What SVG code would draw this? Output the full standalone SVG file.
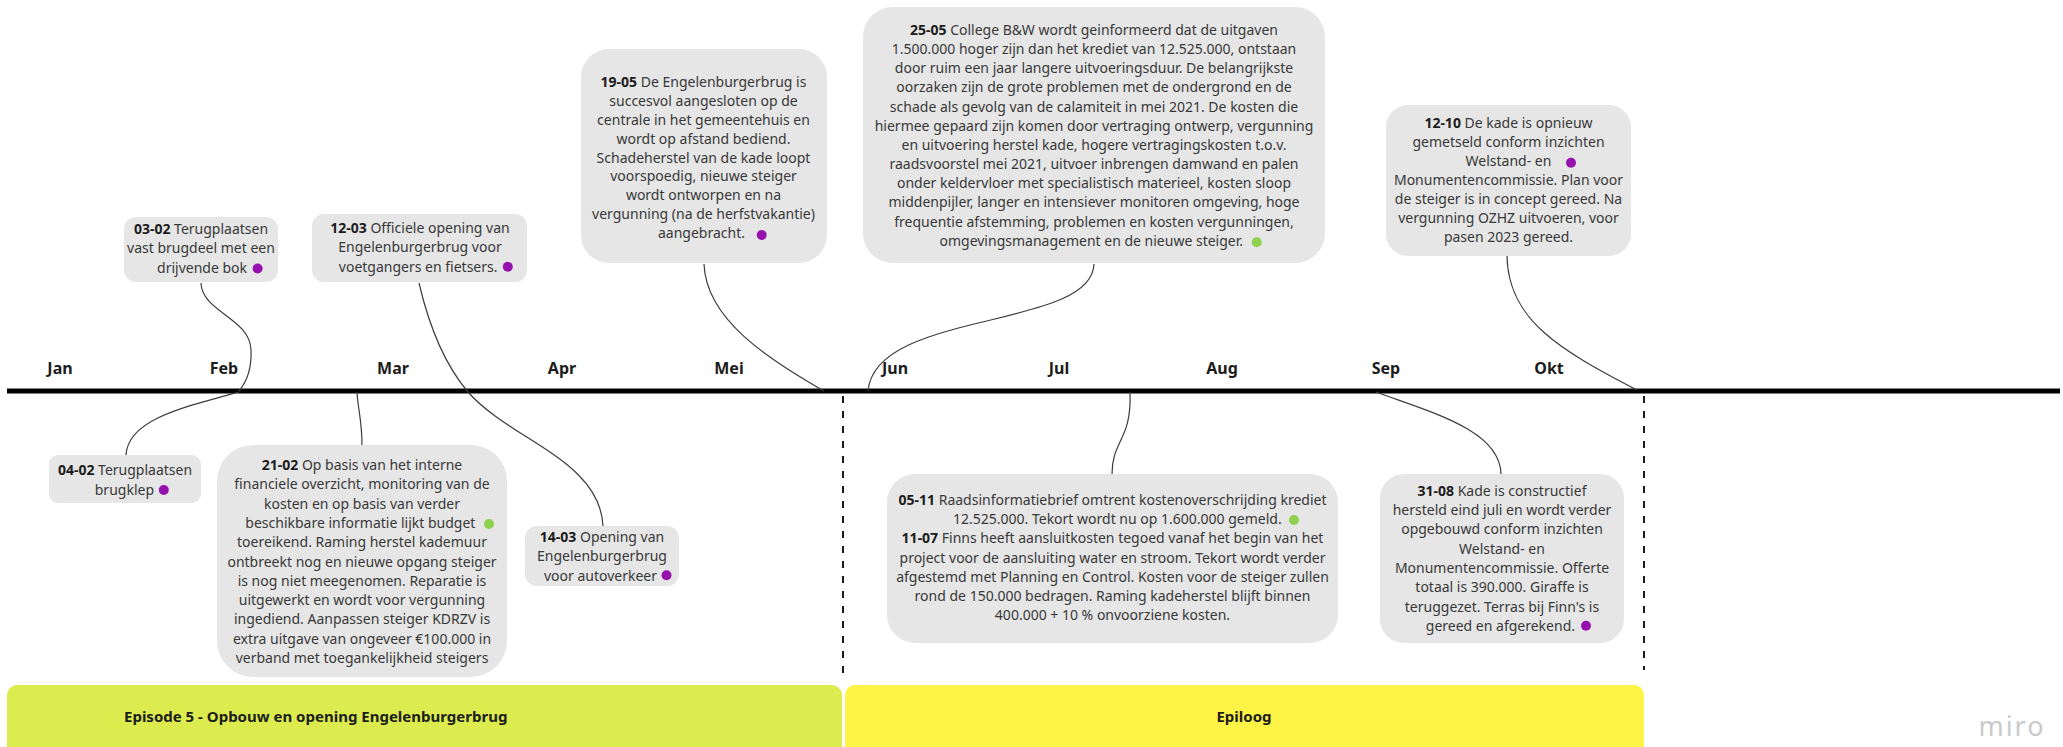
<svg xmlns="http://www.w3.org/2000/svg" width="2063" height="747" viewBox="0 0 2063 747">
<style>
.box{fill:#e6e6e6}
.t{font-family:"Noto Sans","Liberation Sans",sans-serif;font-size:14px;fill:#383838;text-anchor:middle}
.e{text-anchor:end}
.b{font-weight:700;fill:#1c1c1c}
.dp{fill:#9510ac}
.dg{fill:#8fd14f}
.conn{fill:none;stroke:#3c3c3c;stroke-width:1.2}
.dash{fill:none;stroke:#1a1a1a;stroke-width:2;stroke-dasharray:7 8}
.m{font-family:"Noto Sans","Liberation Sans",sans-serif;font-size:16px;font-weight:700;fill:#1c1c1c;text-anchor:middle}
.band{font-family:"Noto Sans","Liberation Sans",sans-serif;font-size:15px;font-weight:700;fill:#1c1c1c}
</style>
<rect width="2063" height="747" fill="#ffffff"/>

<g id="bands">
  <rect x="7" y="685" width="835" height="80" rx="10" fill="#dcec4e"/>
  <rect x="845" y="685" width="799" height="80" rx="10" fill="#fef445"/>
  <text class="band" x="124" y="722">Episode 5 - Opbouw en opening Engelenburgerbrug</text>
  <text class="band" x="1244" y="722" text-anchor="middle">Epiloog</text>
</g>

<g id="axis">
  <line x1="7" y1="391" x2="2060" y2="391" stroke="#000" stroke-width="5"/>
  <line class="dash" x1="843" y1="396" x2="843" y2="680"/>
  <line class="dash" x1="1644" y1="396" x2="1644" y2="670"/>
  <text class="m" x="60" y="374">Jan</text>
  <text class="m" x="224" y="374">Feb</text>
  <text class="m" x="393" y="374">Mar</text>
  <text class="m" x="562" y="374">Apr</text>
  <text class="m" x="729" y="374">Mei</text>
  <text class="m" x="895" y="374">Jun</text>
  <text class="m" x="1059" y="374">Jul</text>
  <text class="m" x="1222" y="374">Aug</text>
  <text class="m" x="1386" y="374">Sep</text>
  <text class="m" x="1549" y="374">Okt</text>
</g>

<g id="connectors">
  <path class="conn" d="M201,283 C202,312 250,318 251,350 C252,372 244,385 239,391"/>
  <path class="conn" d="M239,392 C180,408 128,420 126,455"/>
  <path class="conn" d="M362,445 C362,420 358,410 357,392"/>
  <path class="conn" d="M419,283 C430,330 445,365 468,392 C510,440 600,460 603,526"/>
  <path class="conn" d="M704,264 C706,320 770,360 824,391"/>
  <path class="conn" d="M1094,264 C1092,330 875,310 868,391"/>
  <path class="conn" d="M1130,392 C1132,440 1112,440 1112,474"/>
  <path class="conn" d="M1376,392 C1430,412 1500,430 1501,474"/>
  <path class="conn" d="M1507,256 C1508,320 1560,350 1637,390"/>
</g>

<g id="n0302">
  <rect class="box" x="124" y="217" width="154" height="65" rx="12"/>
  <text class="t" x="201" y="234"><tspan class="b">03-02</tspan> Terugplaatsen</text>
  <text class="t" x="201" y="253.3">vast brugdeel met een</text>
  <text class="t e" x="247" y="272.6">drijvende bok</text>
  <circle class="dp" cx="257.6" cy="268.5" r="5"/>
</g>

<g id="n1203">
  <rect class="box" x="312" y="214" width="215" height="68" rx="12"/>
  <text class="t" x="420" y="233"><tspan class="b">12-03</tspan> Officiele opening van</text>
  <text class="t" x="420" y="252.3">Engelenburgerbrug voor</text>
  <text class="t e" x="497.5" y="271.6">voetgangers en fietsers.</text>
  <circle class="dp" cx="507.8" cy="266.7" r="5"/>
</g>

<g id="n1905">
  <rect class="box" x="581" y="49" width="246" height="214" rx="28"/>
  <text class="t" x="703.5" y="86.7"><tspan class="b">19-05</tspan> De Engelenburgerbrug is</text>
  <text class="t" x="703.5" y="105.65">succesvol aangesloten op de</text>
  <text class="t" x="703.5" y="124.6">centrale in het gemeentehuis en</text>
  <text class="t" x="703.5" y="143.55">wordt op afstand bediend.</text>
  <text class="t" x="703.5" y="162.5">Schadeherstel van de kade loopt</text>
  <text class="t" x="703.5" y="181.45">voorspoedig, nieuwe steiger</text>
  <text class="t" x="703.5" y="200.4">wordt ontworpen en na</text>
  <text class="t" x="703.5" y="219.35">vergunning (na de herfstvakantie)</text>
  <text class="t e" x="745" y="238.3">aangebracht.</text>
  <circle class="dp" cx="761.7" cy="235" r="5"/>
</g>

<g id="n2505">
  <rect class="box" x="863" y="7" width="462" height="256" rx="30"/>
  <text class="t" x="1094" y="35"><tspan class="b">25-05</tspan> College B&amp;W wordt geinformeerd dat de uitgaven</text>
  <text class="t" x="1094" y="54.15">1.500.000 hoger zijn dan het krediet van 12.525.000, ontstaan</text>
  <text class="t" x="1094" y="73.3">door ruim een jaar langere uitvoeringsduur. De belangrijkste</text>
  <text class="t" x="1094" y="92.45">oorzaken zijn de grote problemen met de ondergrond en de</text>
  <text class="t" x="1094" y="111.6">schade als gevolg van de calamiteit in mei 2021. De kosten die</text>
  <text class="t" x="1094" y="130.75">hiermee gepaard zijn komen door vertraging ontwerp, vergunning</text>
  <text class="t" x="1094" y="149.9">en uitvoering herstel kade, hogere vertragingskosten t.o.v.</text>
  <text class="t" x="1094" y="169.05">raadsvoorstel mei 2021, uitvoer inbrengen damwand en palen</text>
  <text class="t" x="1094" y="188.2">onder keldervloer met specialistisch materieel, kosten sloop</text>
  <text class="t" x="1094" y="207.35">middenpijler, langer en intensiever monitoren omgeving, hoge</text>
  <text class="t" x="1094" y="226.5">frequentie afstemming, problemen en kosten vergunningen,</text>
  <text class="t e" x="1243" y="245.65">omgevingsmanagement en de nieuwe steiger.</text>
  <circle class="dg" cx="1256.7" cy="242.3" r="5"/>
</g>

<g id="n1210">
  <rect class="box" x="1386" y="105" width="245" height="151" rx="22"/>
  <text class="t" x="1508.5" y="127.7"><tspan class="b">12-10</tspan> De kade is opnieuw</text>
  <text class="t" x="1508.5" y="146.8">gemetseld conform inzichten</text>
  <text class="t" x="1508.5" y="165.9">Welstand- en</text>
  <circle class="dp" cx="1571" cy="162.7" r="5"/>
  <text class="t" x="1508.5" y="185">Monumentencommissie. Plan voor</text>
  <text class="t" x="1508.5" y="204.1">de steiger is in concept gereed. Na</text>
  <text class="t" x="1508.5" y="223.2">vergunning OZHZ uitvoeren, voor</text>
  <text class="t" x="1508.5" y="242.3">pasen 2023 gereed.</text>
</g>

<g id="n0402">
  <rect class="box" x="49" y="455" width="152" height="48" rx="9"/>
  <text class="t" x="125" y="475"><tspan class="b">04-02</tspan> Terugplaatsen</text>
  <text class="t e" x="154" y="494.5">brugklep</text>
  <circle class="dp" cx="163.8" cy="490" r="5"/>
</g>

<g id="n2102">
  <rect class="box" x="217" y="445" width="290" height="232" rx="36"/>
  <text class="t" x="362" y="470"><tspan class="b">21-02</tspan> Op basis van het interne</text>
  <text class="t" x="362" y="489.3">financiele overzicht, monitoring van de</text>
  <text class="t" x="362" y="508.6">kosten en op basis van verder</text>
  <text class="t e" x="475.4" y="527.9">beschikbare informatie lijkt budget</text>
  <circle class="dg" cx="489" cy="524" r="5"/>
  <text class="t" x="362" y="547.2">toereikend. Raming herstel kademuur</text>
  <text class="t" x="362" y="566.5">ontbreekt nog en nieuwe opgang steiger</text>
  <text class="t" x="362" y="585.8">is nog niet meegenomen. Reparatie is</text>
  <text class="t" x="362" y="605.1">uitgewerkt en wordt voor vergunning</text>
  <text class="t" x="362" y="624.4">ingediend. Aanpassen steiger KDRZV is</text>
  <text class="t" x="362" y="643.7">extra uitgave van ongeveer €100.000 in</text>
  <text class="t" x="362" y="663">verband met toegankelijkheid steigers</text>
</g>

<g id="n1403">
  <rect class="box" x="525" y="526" width="154" height="60" rx="12"/>
  <text class="t" x="602" y="542"><tspan class="b">14-03</tspan> Opening van</text>
  <text class="t" x="602" y="561.3">Engelenburgerbrug</text>
  <text class="t e" x="657" y="580.6">voor autoverkeer</text>
  <circle class="dp" cx="666.5" cy="575.3" r="5"/>
</g>

<g id="n0511">
  <rect class="box" x="887" y="474" width="451" height="169" rx="28"/>
  <text class="t" x="1112.5" y="505"><tspan class="b">05-11</tspan> Raadsinformatiebrief omtrent kostenoverschrijding krediet</text>
  <text class="t e" x="1281.7" y="524.2">12.525.000. Tekort wordt nu op 1.600.000 gemeld.</text>
  <circle class="dg" cx="1294" cy="520" r="5"/>
  <text class="t" x="1112.5" y="543.3"><tspan class="b">11-07</tspan> Finns heeft aansluitkosten tegoed vanaf het begin van het</text>
  <text class="t" x="1112.5" y="562.5">project voor de aansluiting water en stroom. Tekort wordt verder</text>
  <text class="t" x="1112.5" y="581.7">afgestemd met Planning en Control. Kosten voor de steiger zullen</text>
  <text class="t" x="1112.5" y="600.8">rond de 150.000 bedragen. Raming kadeherstel blijft binnen</text>
  <text class="t" x="1112.5" y="620">400.000 + 10 % onvoorziene kosten.</text>
</g>

<g id="n3108">
  <rect class="box" x="1380" y="474" width="244" height="169" rx="24"/>
  <text class="t" x="1502" y="495.7"><tspan class="b">31-08</tspan> Kade is constructief</text>
  <text class="t" x="1502" y="515">hersteld eind juli en wordt verder</text>
  <text class="t" x="1502" y="534.3">opgebouwd conform inzichten</text>
  <text class="t" x="1502" y="553.6">Welstand- en</text>
  <text class="t" x="1502" y="572.9">Monumentencommissie. Offerte</text>
  <text class="t" x="1502" y="592.2">totaal is 390.000. Giraffe is</text>
  <text class="t" x="1502" y="611.5">teruggezet. Terras bij Finn's is</text>
  <text class="t e" x="1575" y="630.7">gereed en afgerekend.</text>
  <circle class="dp" cx="1586" cy="625.7" r="5"/>
</g>

<g id="watermark">
  <text x="2012" y="736" text-anchor="middle" font-family="'Noto Sans','Liberation Sans',sans-serif" font-size="27" letter-spacing="2" fill="#cacaca">miro</text>
</g>
</svg>
